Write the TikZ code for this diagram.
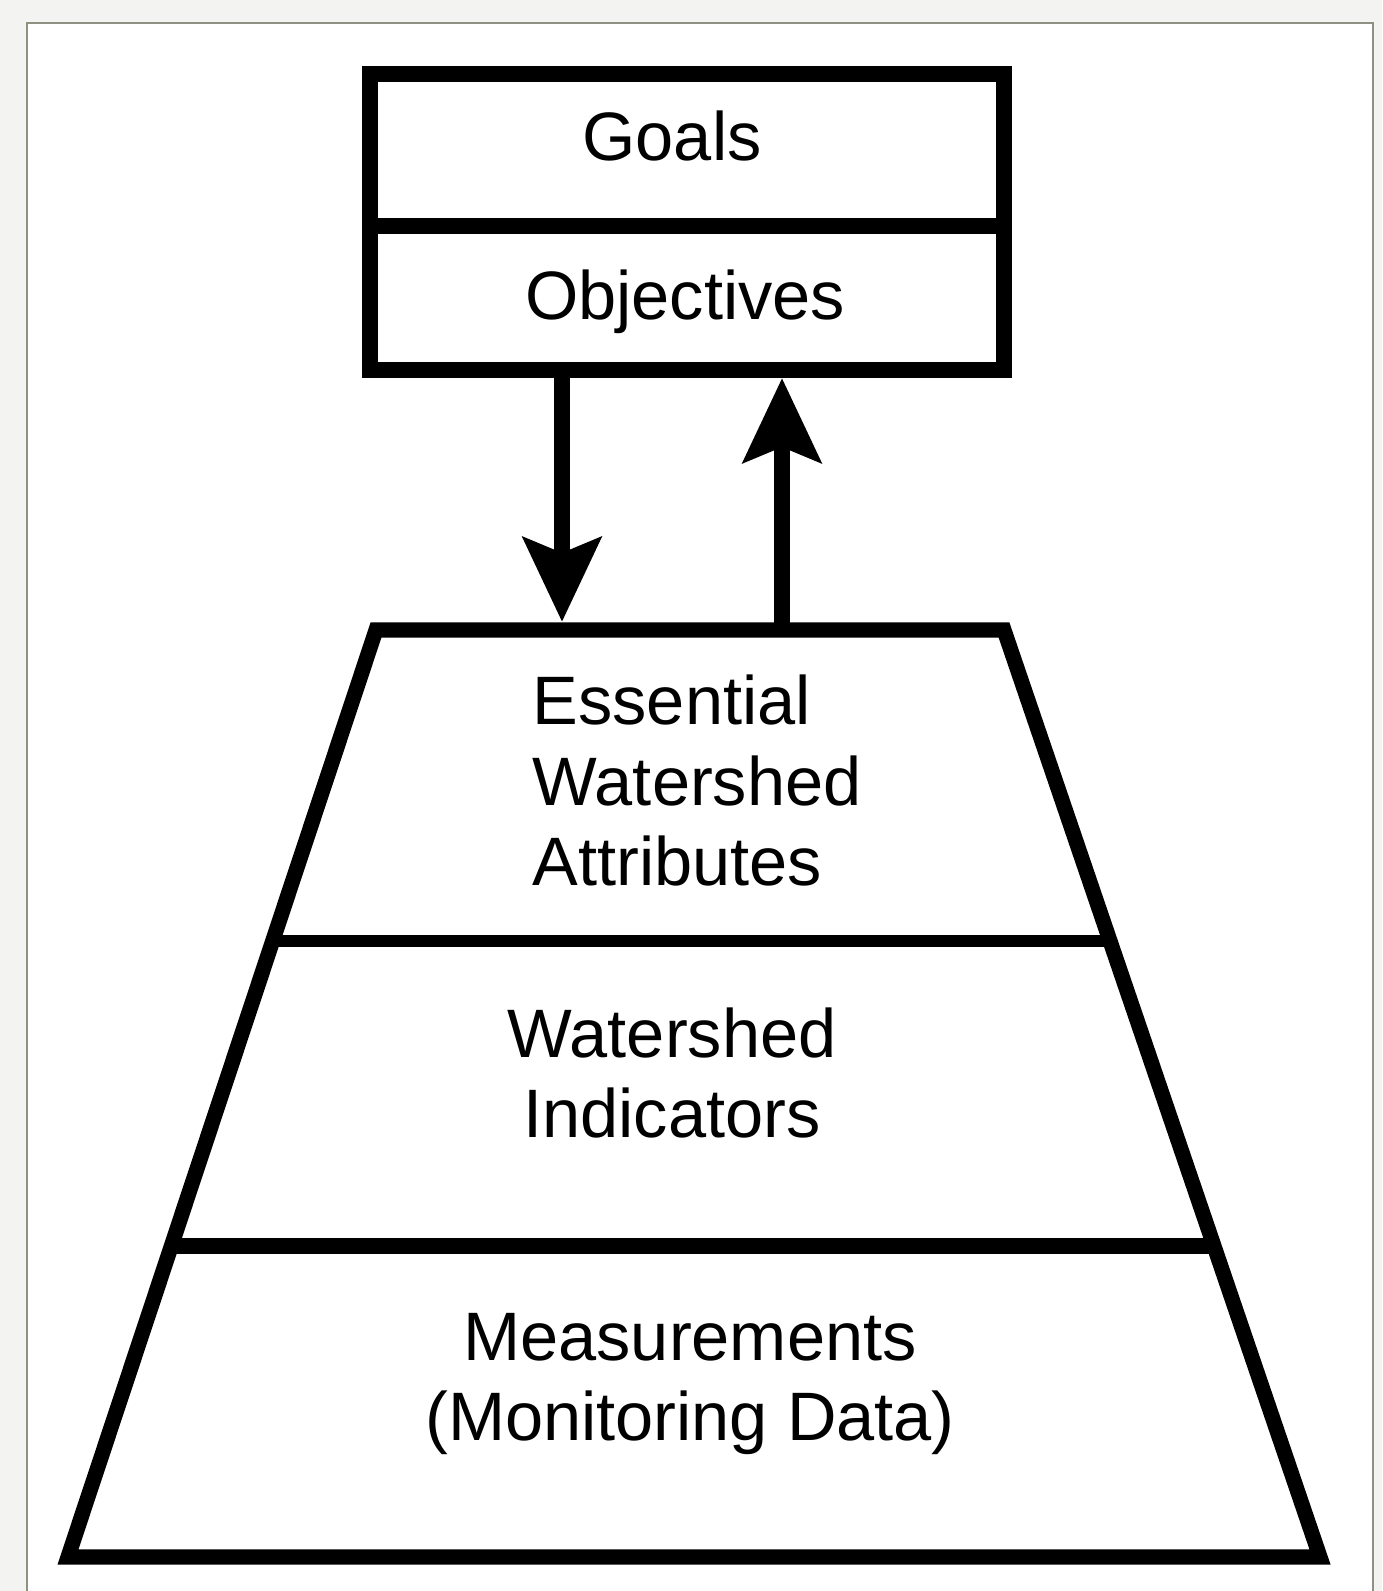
\documentclass[tikz,border=0pt]{standalone}
\usepackage{fontspec}
\setmainfont{Liberation Sans}
\usetikzlibrary{arrows.meta, positioning, calc}
\definecolor{pagegray}{HTML}{F3F4F1}
\definecolor{framegray}{HTML}{8E9282}
\definecolor{inkblack}{HTML}{000000}

\begin{document}
\begin{tikzpicture}[>={Stealth[length=0.84cm, width=0.77cm, inset=0.15cm]},
  lvltext/.style={text=inkblack, font=\fontsize{19.5pt}{23pt}\selectfont, inner sep=0pt},
  heavy/.style={draw=inkblack, line width=4.3pt}]

% Page and frame
\useasboundingbox (0,0) rectangle (13.82,15.91);
\fill[pagegray] (0,0) rectangle (13.82,15.91);
\fill[white] (0.27,-0.5) rectangle (13.73,15.68);
\draw[framegray, line width=0.6pt] (0.27,-0.5) -- (0.27,15.68) -- (13.73,15.68) -- (13.73,-0.5);

% Goals / Objectives box
\node[heavy, line width=4.5pt, minimum width=6.34cm, minimum height=2.96cm, inner sep=0pt] (goalbox) at (6.87,13.69) {};
\draw[heavy] (goalbox.west |- 0,13.65) -- (goalbox.east |- 0,13.65);
\node[lvltext, anchor=base] (goals) at (6.72,14.30) {Goals};
\node[lvltext, anchor=base] (objectives) at (6.85,12.71) {Objectives};

% Trapezoid corners
\coordinate (tl) at (3.76,9.61);
\coordinate (tr) at (10.04,9.61);
\coordinate (br) at (13.20,0.34);
\coordinate (bl) at (0.68,0.34);
\draw[heavy] (tl) -- (tr) -- (br) -- (bl) -- cycle;

% Level dividers: y = 6.50 and y = 3.45
\draw[heavy, line width=3.4pt] ($(tl)!0.3355!(bl)$) -- ($(tr)!0.3355!(br)$);
\draw[heavy] ($(tl)!0.6645!(bl)$) -- ($(tr)!0.6645!(br)$);

% Level labels (base = last line)
\node[lvltext, anchor=base west, align=left] (attributes) at (5.32,7.05) {Essential\\Watershed\\Attributes};
\node[lvltext, anchor=base, align=center] (indicators) at (6.72,4.53) {Watershed\\Indicators};
\node[lvltext, anchor=base, align=center] (measurements) at (6.90,1.50) {Measurements\\(Monitoring Data)};

% Feedback arrows between box and trapezoid
\coordinate (dnstart) at (5.62,12.21);
\coordinate (dnend) at (5.62,9.69);
\coordinate (upstart) at (7.82,9.61);
\coordinate (upend) at (7.82,12.13);
\draw[inkblack, line width=4.8pt, ->] (dnstart) -- (dnend);
\draw[inkblack, line width=4.8pt, ->] (upstart) -- (upend);

\end{tikzpicture}
\end{document}
